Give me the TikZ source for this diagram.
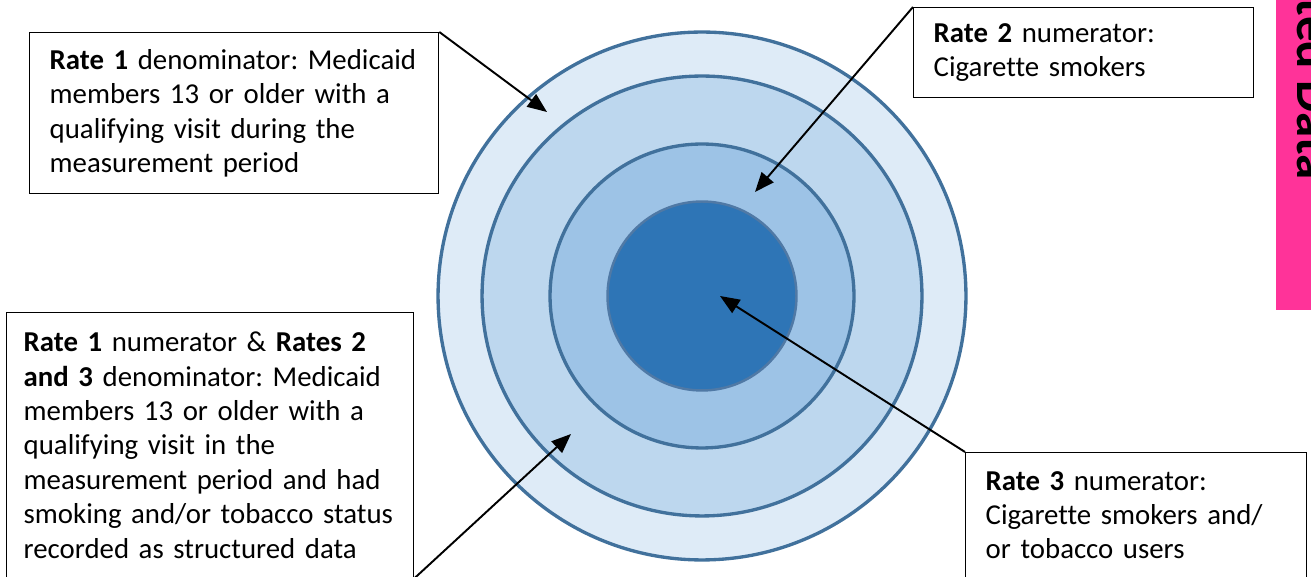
\documentclass[tikz,border=0pt]{standalone}
\usepackage{fontspec}
\setmainfont{Carlito}[Ligatures=NoCommon]
\usetikzlibrary{arrows.meta}
\definecolor{ringline}{HTML}{41719C}
\definecolor{coreline}{HTML}{5079A5}
\definecolor{ringA}{HTML}{DEEBF7}
\definecolor{ringB}{HTML}{BDD7EE}
\definecolor{ringC}{HTML}{9DC3E6}
\definecolor{ringD}{HTML}{2E75B6}
\definecolor{tabpink}{HTML}{FF3399}
\newcommand{\boxfont}{\fontsize{16.4}{19.6}\selectfont\frenchspacing}
\begin{document}
\begin{tikzpicture}[
  x=0.02cm, y=0.02cm,
  ring/.style={circle, draw=ringline, line width=1.9pt, inner sep=0pt},
  ratebox/.style={draw=black, line width=0.8pt, fill=white, align=left, anchor=north west, inner xsep=0.4cm, inner ysep=0pt, font=\boxfont},
  pointer/.style={-{Triangle[length=3.9mm,width=3.1mm]}, line width=1.1pt}
]
  \useasboundingbox (0,0) rectangle (1311,577);
  \clip (0,0) rectangle (1311,577);
  % side tab, cut by the page edge
  \fill[tabpink] (1276,267) rectangle (1330,577);
  \node[rotate=-90, anchor=base east, inner sep=0pt, font=\fontsize{29}{30}\selectfont\bfseries] (tab) at (1297,397) {ted Data};
  % target
  \node[ring, fill=ringA, minimum size=10.56cm] (outer) at (702,281) {};
  \node[ring, fill=ringB, minimum size=8.8cm] (second) at (702,281) {};
  \node[ring, fill=ringC, minimum size=6.08cm] (third) at (702,281) {};
  \node[ring, fill=ringD, draw=coreline, line width=1.4pt, minimum size=3.78cm] (core) at (702,281) {};
  % text boxes
  \node[ratebox, text width=7.38cm, minimum height=3.22cm] (r1den) at (29,545) {\textbf{Rate 1} denominator: Medicaid\\members 13 or older with a\\qualifying visit during the\\measurement period};
  \node[ratebox, text width=6.0cm, minimum height=1.8cm] (r2num) at (913,570) {\textbf{Rate 2} numerator:\\Cigarette smokers};
  \node[ratebox, inner xsep=0.34cm, text width=7.46cm, minimum height=5.3cm] (r1num) at (6,265) {\textbf{Rate 1} numerator \& \textbf{Rates 2}\\\textbf{and 3} denominator: Medicaid\\members 13 or older with a\\qualifying visit in the\\measurement period and had\\smoking and/or tobacco status\\recorded as structured data};
  \node[ratebox, text width=6.02cm, minimum height=2.5cm] (r3num) at (965,125) {\textbf{Rate 3} numerator:\\Cigarette smokers and/\\or tobacco users};
  % arrows
  \coordinate (p1) at (547,465);
  \coordinate (p2) at (755,385);
  \coordinate (p3) at (720,281);
  \coordinate (p4) at (571,143);
  \draw[pointer] (r1den.north east) -- (p1);
  \draw[pointer] (r2num.north west) -- (p2);
  \draw[pointer] (r3num.north west) -- (p3);
  \draw[pointer] (r1num.south east) -- (p4);
\end{tikzpicture}
\end{document}
